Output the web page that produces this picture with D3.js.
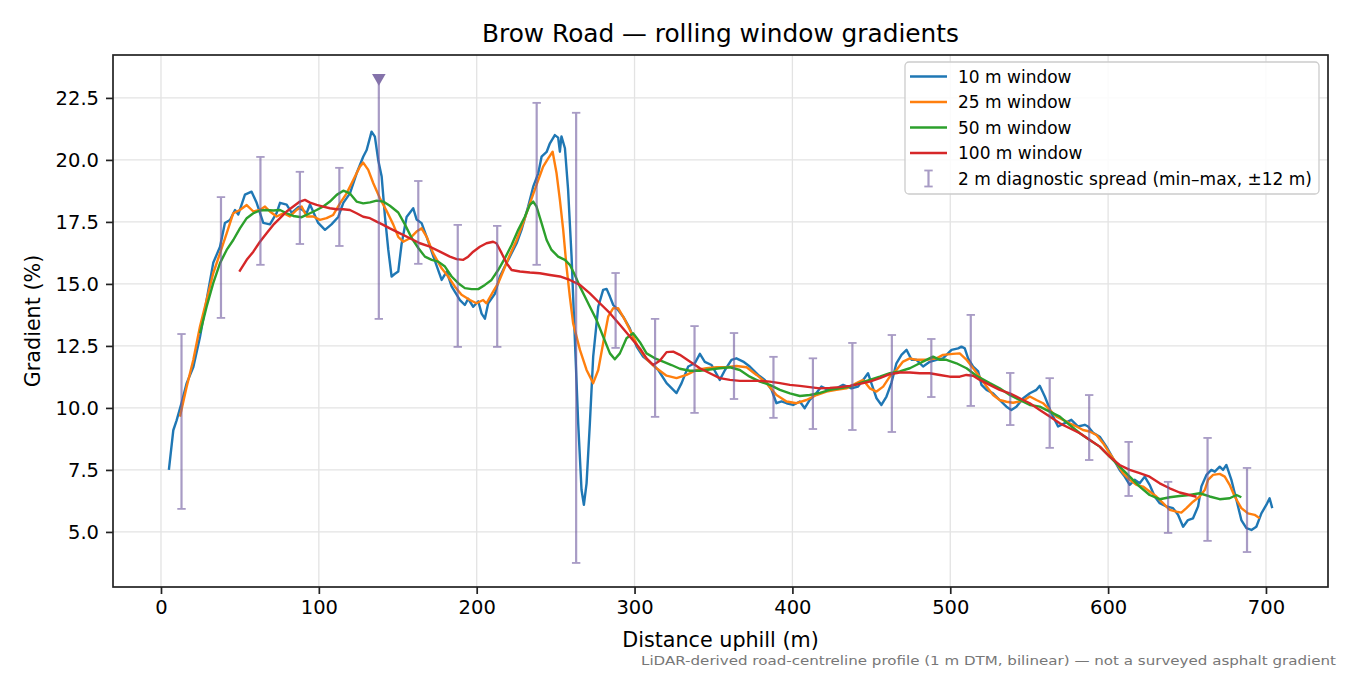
<!DOCTYPE html>
<html>
<head>
<meta charset="utf-8">
<script src="https://cdn.jsdelivr.net/npm/d3@7"></script>
<style>
html,body{margin:0;padding:0;background:#fff;}
svg{display:block;font-family:"DejaVu Sans",sans-serif;}
</style>
</head>
<body>
<svg id="chart" width="1350" height="675"></svg>
<script>
// ---------------- DATA ----------------
const chartTitle = "Brow Road — rolling window gradients";
const xLabel = "Distance uphill (m)";
const yLabel = "Gradient (%)";
const footnote = "LiDAR-derived road-centreline profile (1 m DTM, bilinear) — not a surveyed asphalt gradient";
const seriesNames = ["10 m window", "25 m window", "50 m window", "100 m window"];
const spreadName = "2 m diagnostic spread (min–max, ±12 m)";
const xTicks = [0, 100, 200, 300, 400, 500, 600, 700];
const yTicks = [5.0, 7.5, 10.0, 12.5, 15.0, 17.5, 20.0, 22.5];

// [distance (m), gradient (%)]
const win10 = [[5,7.5],[7.8,9.1],[9.9,9.5],[13,10.2],[16.3,11.0],[20.5,11.65],[24.7,12.86],[28.9,14.35],[33.1,15.85],[37.4,16.5],[40.5,17.46],[43.7,17.58],[46.9,17.98],[49,17.8],[53.2,18.6],[57.4,18.72],[60.6,18.27],[64.8,17.46],[69,17.4],[73.3,17.86],[75.4,18.27],[79.6,18.2],[82.8,17.86],[87,18.1],[92.3,17.86],[94.4,18.2],[99.6,17.46],[103.9,17.18],[108,17.4],[112.3,17.7],[115.5,18.27],[119.7,18.65],[124,19.47],[128.1,20.13],[130.3,20.4],[133.4,21.14],[135.5,20.94],[137.6,20.0],[139.8,19.33],[141.9,17.7],[144,16.37],[146.1,15.3],[148,15.4],[150.3,15.5],[152.4,16.6],[155.6,17.7],[159.8,18.05],[161.9,17.6],[165.1,17.45],[168.3,16.9],[171.5,16.3],[175.6,15.56],[177.8,15.16],[181,15.5],[184.1,14.9],[189.4,14.35],[192.5,14.15],[194.6,14.4],[197.8,14.08],[201,14.3],[203.1,13.8],[205.2,13.6],[207.3,14.22],[211.5,14.6],[214.7,15.3],[217.8,15.7],[221,16.1],[225.3,16.64],[228.4,17.18],[232.6,18.12],[235.8,18.92],[239,19.46],[241.1,20.13],[244.3,20.32],[246.4,20.67],[249.5,21.0],[251.6,20.9],[252.7,20.33],[253.7,20.95],[255.9,20.47],[257.9,18.8],[260.1,16.1],[262.2,12.74],[264.3,9.38],[266.4,6.7],[267.9,6.09],[269.6,6.96],[271.7,9.38],[273.8,12.07],[277,14.08],[280.1,14.76],[282.3,14.8],[284.4,14.49],[286.5,14.15],[289.6,13.95],[292.8,13.68],[297,13.21],[301.3,12.47],[305.4,12.07],[309.7,11.85],[315,11.53],[320.3,11.0],[326.6,10.6],[329.8,11.0],[334,11.67],[338.2,11.8],[341.4,12.18],[344.5,11.86],[348.8,11.73],[354,11.13],[357.3,11.53],[361.4,11.94],[364.5,12.0],[368.8,11.87],[373,11.67],[378.3,11.33],[382.5,11.13],[386.8,10.73],[389.9,10.19],[393.1,10.26],[396.3,10.19],[400.5,10.12],[404.7,10.26],[407.8,9.99],[411,10.32],[415.2,10.6],[418.4,10.86],[422.6,10.73],[427.9,10.79],[432.1,10.93],[437.4,10.79],[441.6,10.86],[444.8,11.13],[447.9,11.4],[450,11.0],[453.3,10.39],[456.4,10.12],[459.6,10.46],[462.7,11.0],[465.9,11.8],[469.1,12.14],[472.3,12.34],[475.5,11.94],[478.6,11.94],[482.8,11.67],[487,11.86],[491.3,11.94],[495.4,12.0],[500.8,12.34],[505,12.4],[507.1,12.47],[509.2,12.4],[511.3,12.0],[514.5,11.67],[517.7,11.47],[519.8,10.93],[523,10.73],[527.1,10.59],[531.3,10.32],[535.6,10.05],[538.7,9.92],[541.9,10.05],[546.2,10.39],[550.4,10.59],[554.6,10.73],[556.7,10.89],[559.9,10.46],[564.1,9.79],[568.3,9.25],[572.6,9.39],[576.7,9.52],[581,9.25],[585.2,9.32],[587.3,9.25],[590.5,9.0],[594.7,8.84],[598.9,8.44],[603.1,7.97],[607.3,7.5],[610.5,7.23],[613.7,6.9],[616.8,7.1],[620,6.96],[623.2,7.23],[626.3,6.9],[629.5,6.43],[632.7,6.16],[636.9,6.03],[641.1,5.96],[644.3,5.69],[647.5,5.21],[650.6,5.48],[653.8,5.55],[657,6.03],[659.1,6.83],[662.3,7.3],[665.4,7.5],[667.6,7.43],[670.7,7.63],[672.8,7.5],[674.9,7.7],[678.1,7.1],[681.3,6.29],[684.4,5.48],[687.6,5.15],[690.8,5.08],[693.9,5.21],[697.1,5.75],[700.3,6.1],[702.3,6.36],[704,5.96]];

const win25 = [[12,9.65],[16.3,10.86],[20.5,11.94],[24.7,13.28],[28.9,14.35],[33.1,15.43],[37.4,16.24],[41.6,17.04],[45.8,17.85],[50,17.98],[54.3,18.18],[58.5,17.92],[62.7,17.98],[65.9,18.12],[69,17.92],[73.3,17.72],[77.5,17.85],[81.7,17.72],[85.9,17.98],[89.1,18.12],[92.3,17.72],[96.5,17.72],[100.7,17.58],[104.9,17.65],[109.1,17.78],[113.4,18.25],[117.6,18.65],[121.8,19.19],[126,19.73],[128.1,19.89],[131.3,19.6],[134.5,19.06],[138.7,18.45],[142.9,17.95],[147.1,17.4],[150.3,16.9],[153.5,16.7],[157.7,16.84],[161.9,17.11],[165.1,17.24],[168.3,16.9],[172.4,16.24],[177.8,15.63],[181.9,15.3],[186.2,14.89],[190.4,14.56],[195.7,14.35],[199.9,14.22],[204.1,14.35],[206.2,14.22],[210.4,14.69],[213.6,15.03],[216.7,15.5],[221,16.17],[225.3,16.77],[229.4,17.45],[233.7,18.25],[237.9,18.99],[242.1,19.73],[245.3,20.06],[248.1,20.33],[250.6,19.46],[252.7,18.39],[254.8,17.18],[256.9,15.7],[259,14.49],[261.1,13.41],[265.4,12.34],[269.6,11.53],[273.8,11.0],[277,11.53],[280.1,12.61],[283.3,13.68],[286.5,14.02],[289.6,14.02],[293.9,13.55],[298.1,13.01],[302.3,12.45],[307.6,11.97],[313.9,11.6],[320.3,11.3],[326.6,11.2],[332.9,11.33],[339.3,11.53],[345.6,11.6],[351.9,11.64],[358.3,11.64],[364.6,11.69],[371,11.64],[377.3,11.33],[383.6,11.0],[389.9,10.52],[396.3,10.26],[402.6,10.19],[408.9,10.32],[415.3,10.52],[421.6,10.66],[427.9,10.73],[434.2,10.79],[440.6,11.0],[444.8,11.13],[449,10.79],[453.3,10.66],[457.5,10.86],[461.7,11.26],[465.9,11.53],[470.1,11.87],[474.4,12.0],[478.6,11.94],[484.9,11.94],[491.3,12.0],[495.4,12.14],[501.7,12.18],[506,12.2],[510.2,11.95],[514.5,11.6],[518.7,11.25],[523,10.86],[527.1,10.52],[531.3,10.32],[535.6,10.25],[539.8,10.21],[546.2,10.29],[550.4,10.46],[554.6,10.32],[558.8,10.19],[563,9.92],[567.3,9.65],[571.5,9.52],[575.7,9.38],[580,9.25],[584.1,9.11],[588.3,9.05],[592.6,8.91],[596.8,8.58],[601,8.17],[605.3,7.77],[609.4,7.37],[613.7,7.1],[617.9,6.9],[622.1,6.83],[626.3,6.63],[630.6,6.43],[634.8,6.16],[639,5.89],[643.3,5.82],[646.4,5.78],[649.6,5.96],[653.8,6.22],[658,6.43],[661.2,6.69],[663.3,7.1],[666.5,7.3],[670.7,7.34],[673.9,7.23],[677,6.9],[680.2,6.43],[684.4,5.96],[688.6,5.75],[692.8,5.69],[696,5.55]];

const win50 = [[24.7,13.01],[28.9,14.08],[33.1,15.03],[37.4,15.84],[41.6,16.37],[45.8,16.77],[50,17.24],[54.3,17.65],[58.5,17.85],[62.7,17.96],[66.9,17.98],[71.1,17.96],[75.4,17.98],[79.6,17.85],[83.8,17.74],[89.1,17.69],[94.4,17.85],[98.6,17.98],[102.8,18.12],[107,18.32],[111.3,18.59],[115.5,18.76],[119.7,18.65],[123.9,18.32],[128.1,18.25],[132.4,18.29],[136.6,18.36],[140.8,18.32],[145,18.15],[150.3,17.88],[154.5,17.4],[158.8,16.85],[163,16.45],[167.2,16.1],[171.5,15.97],[175.6,15.9],[179.9,15.7],[184.1,15.3],[188.3,15.03],[192.5,14.83],[196.8,14.79],[201,14.79],[205.2,14.96],[209.4,15.16],[213.6,15.56],[217.9,16.04],[222.1,16.57],[226.3,17.18],[230.5,17.71],[233.7,18.19],[235.8,18.32],[237.9,18.12],[241.1,17.45],[244.3,16.77],[247.4,16.37],[251.6,16.1],[255.9,15.97],[259,15.77],[262.2,15.36],[265.4,14.89],[268.5,14.49],[271.7,14.08],[275.9,13.55],[280.1,12.88],[284.4,12.2],[287.5,11.96],[290.7,12.2],[294.9,12.81],[299.1,13.01],[303.4,12.65],[307.6,12.2],[312.9,12.0],[318.1,11.87],[323.4,11.73],[328.7,11.58],[335,11.5],[341.4,11.5],[347.7,11.55],[354,11.6],[360.4,11.64],[366.7,11.53],[373,11.26],[379.4,11.06],[385.7,10.93],[392.1,10.73],[398.4,10.59],[404.7,10.48],[411,10.52],[417.4,10.61],[423.7,10.73],[430,10.79],[436.4,10.86],[442.7,11.0],[449,11.13],[455.4,11.26],[461.7,11.4],[468,11.47],[474.4,11.6],[480.7,11.8],[484.9,11.94],[489.1,12.07],[493.4,11.94],[497.6,11.94],[503.9,11.8],[510.3,11.6],[516.6,11.3],[525,11.0],[531.3,10.79],[537.7,10.52],[544,10.32],[550.4,10.12],[556.7,10.05],[563,9.85],[569.4,9.65],[575.7,9.31],[582.1,8.98],[588.4,8.71],[594.7,8.44],[601,8.04],[607.3,7.63],[613.7,7.23],[620,6.83],[626.3,6.49],[632.7,6.32],[639,6.4],[645.3,6.45],[651.6,6.49],[658,6.56],[664.3,6.43],[670.7,6.32],[677,6.36],[681.3,6.49],[684.4,6.4]];

const win100 = [[49.6,15.5],[54.3,15.97],[58.5,16.3],[62.7,16.7],[66.9,17.04],[71.1,17.38],[75.4,17.65],[79.6,17.92],[83.8,18.12],[88,18.32],[91.2,18.39],[94.4,18.28],[98.6,18.19],[102.8,18.12],[107,18.05],[111.3,18.01],[115.5,18.01],[119.7,17.98],[123.9,17.85],[128.1,17.71],[132.4,17.65],[136.6,17.51],[140.8,17.38],[145,17.24],[151.4,17.04],[157.7,16.84],[164,16.64],[170.4,16.5],[176.7,16.3],[183,16.1],[187.3,16.0],[191.5,15.97],[194.6,16.1],[197.8,16.3],[202,16.5],[206.2,16.64],[210.4,16.7],[212.5,16.64],[215.8,16.24],[218.9,15.84],[222.1,15.56],[227.4,15.5],[233.7,15.46],[240,15.43],[246.4,15.36],[252.7,15.3],[259,15.16],[265.4,14.96],[271.7,14.62],[278,14.22],[284.4,13.82],[290.7,13.35],[297,12.88],[303.4,12.4],[307.6,12.0],[311.8,11.73],[316,11.9],[320.3,12.25],[324.5,12.27],[328.7,12.14],[335,11.87],[341.4,11.6],[347.7,11.4],[354,11.2],[360.4,11.13],[366.7,11.09],[373,11.09],[379.4,11.09],[385.7,11.06],[392.1,11.0],[398.4,10.93],[404.7,10.89],[411,10.84],[417.4,10.79],[423.7,10.81],[430,10.84],[436.4,10.89],[442.7,10.97],[449,11.06],[455.4,11.2],[461.7,11.36],[468,11.43],[474.4,11.43],[480.7,11.4],[487,11.4],[493.4,11.33],[499.7,11.26],[506,11.26],[510.2,11.33],[514.5,11.3],[518.7,11.13],[525,10.93],[531.3,10.73],[537.7,10.59],[544,10.39],[550.4,10.19],[556.7,9.92],[563,9.65],[569.4,9.38],[575.7,9.18],[582.1,8.98],[588.4,8.71],[594.7,8.44],[601,8.04],[607.3,7.7],[613.7,7.5],[620,7.37],[626.3,7.23],[632.7,6.96],[639,6.76],[645.3,6.59],[651.6,6.49],[656,6.42]];

// diagnostic spread (2 m window, min–max within ±12 m)
const spreadDist = [13,38,63,88,113,138,163,188,213,238,263,288,313,338,363,388,413,438,463,488,513,538,563,588,613,638,663,688];
const spreadLow  = [5.93,13.63,15.77,16.61,16.53,13.59,15.81,12.46,12.46,15.77,3.75,12.42,9.64,9.8,10.36,9.6,9.15,9.11,9.03,10.44,10.08,9.31,8.39,7.9,6.45,4.96,4.64,4.19];
const spreadHigh = [12.98,18.5,20.12,19.52,19.68,26.5,19.15,17.38,17.34,22.3,21.9,15.44,13.59,13.3,13.02,12.06,12.0,12.62,12.94,12.78,13.75,11.41,11.2,10.52,8.63,7.02,8.79,7.58];
const spreadClip = 23.35; // values above this are clipped and flagged

// ---------------- LAYOUT ----------------
const W = 1350, H = 675;
const m = {left: 113, right: 1328, top: 55, bottom: 587};
const colors = ["#1f77b4", "#ff7f0e", "#2ca02c", "#d62728"];
const seriesData = [win10, win25, win50, win100];

const svg = d3.select("#chart");
const x = d3.scaleLinear().domain([-30.4, 739.3]).range([m.left, m.right]);
const y = d3.scaleLinear().domain([2.78, 24.23]).range([m.bottom, m.top]);

// grid
const grid = svg.append("g");
grid.selectAll(".gx").data(xTicks).enter().append("line")
  .attr("x1", d => x(d)).attr("x2", d => x(d))
  .attr("y1", m.top).attr("y2", m.bottom)
  .attr("stroke", "#e3e3e3").attr("stroke-width", 1.3);
grid.selectAll(".gy").data(yTicks).enter().append("line")
  .attr("x1", m.left).attr("x2", m.right)
  .attr("y1", d => y(d)).attr("y2", d => y(d))
  .attr("stroke", "#e3e3e3").attr("stroke-width", 1.3);

// clip
svg.append("clipPath").attr("id", "plotclip").append("rect")
  .attr("x", m.left).attr("y", m.top).attr("width", m.right - m.left).attr("height", m.bottom - m.top);

const plot = svg.append("g").attr("clip-path", "url(#plotclip)");
const line = d3.line().x(d => x(d[0])).y(d => y(d[1]));
seriesData.forEach((s, i) => {
  plot.append("path").datum(s).attr("d", line)
    .attr("fill", "none").attr("stroke", colors[i])
    .attr("stroke-width", 2.4).attr("stroke-linejoin", "round").attr("stroke-linecap", "butt");
});

// error bars
const spread = spreadDist.map((d, i) => ({d, lo: spreadLow[i], hi: Math.min(spreadHigh[i], spreadClip), clipped: spreadHigh[i] > spreadClip}));
const eb = plot.append("g").attr("opacity", 0.6);
const barCol = "#6f5a9f";
const cap = 4.2;
eb.selectAll(".v").data(spread).enter().append("line")
  .attr("x1", d => x(d.d)).attr("x2", d => x(d.d))
  .attr("y1", d => y(d.lo)).attr("y2", d => y(d.hi))
  .attr("stroke", barCol).attr("stroke-width", 2.2);
eb.selectAll(".cl").data(spread).enter().append("line")
  .attr("x1", d => x(d.d) - cap).attr("x2", d => x(d.d) + cap)
  .attr("y1", d => y(d.lo)).attr("y2", d => y(d.lo))
  .attr("stroke", barCol).attr("stroke-width", 1.8);
eb.selectAll(".ch").data(spread.filter(d => !d.clipped)).enter().append("line")
  .attr("x1", d => x(d.d) - cap).attr("x2", d => x(d.d) + cap)
  .attr("y1", d => y(d.hi)).attr("y2", d => y(d.hi))
  .attr("stroke", barCol).attr("stroke-width", 1.8);
plot.selectAll(".tri").data(spread.filter(d => d.clipped)).enter().append("path")
  .attr("d", d3.symbol().type(d3.symbolTriangle).size(80))
  .attr("transform", d => `translate(${x(d.d)},${y(d.hi) + 1}) rotate(180)`)
  .attr("fill", "#8472aa");

// spines
svg.append("rect").attr("x", m.left).attr("y", m.top)
  .attr("width", m.right - m.left).attr("height", m.bottom - m.top)
  .attr("fill", "none").attr("stroke", "#222").attr("stroke-width", 1.7);

// axes
const xAxis = d3.axisBottom(x).tickValues(xTicks).tickFormat(d3.format("d")).tickSize(7).tickPadding(6);
const yAxis = d3.axisLeft(y).tickValues(yTicks).tickFormat(d3.format(".1f")).tickSize(7).tickPadding(7);
const gx = svg.append("g").attr("transform", `translate(0,${m.bottom})`).call(xAxis);
const gy = svg.append("g").attr("transform", `translate(${m.left},0)`).call(yAxis);
[gx, gy].forEach(g => {
  g.select(".domain").remove();
  g.selectAll(".tick line").attr("stroke", "#222").attr("stroke-width", 1.7);
  g.selectAll(".tick text").attr("fill", "#000").style("font-size", "19.5px").style("font-family", "DejaVu Sans");
});

// labels
svg.append("text").attr("x", (m.left + m.right) / 2).attr("y", 42).attr("text-anchor", "middle")
  .style("font-size", "24.8px").attr("fill", "#000").text(chartTitle);
svg.append("text").attr("x", (m.left + m.right) / 2).attr("y", 647).attr("text-anchor", "middle")
  .style("font-size", "20.7px").attr("fill", "#000").text(xLabel);
svg.append("text").attr("transform", `translate(40,${(m.top + m.bottom) / 2}) rotate(-90)`).attr("text-anchor", "middle")
  .style("font-size", "20.7px").attr("fill", "#000").text(yLabel);
svg.append("text").attr("x", 1336).attr("y", 665).attr("text-anchor", "end")
  .style("font-size", "13px").attr("fill", "#777")
  .attr("textLength", 695).attr("lengthAdjust", "spacingAndGlyphs").text(footnote);

// legend
const lg = svg.append("g").attr("transform", "translate(905,62)");
lg.append("rect").attr("x", 0).attr("y", 0).attr("width", 414).attr("height", 132).attr("rx", 4)
  .attr("fill", "#fff").attr("fill-opacity", 0.85).attr("stroke", "#cccccc").attr("stroke-width", 1.3);
const rowY = [14.5, 40, 65.5, 91, 116.5];
seriesNames.forEach((n, i) => {
  lg.append("line").attr("x1", 5).attr("x2", 42).attr("y1", rowY[i]).attr("y2", rowY[i])
    .attr("stroke", colors[i]).attr("stroke-width", 2.5);
  lg.append("text").attr("x", 53).attr("y", rowY[i] + 6).style("font-size", "17px").attr("fill", "#000").text(n);
});
const eg = lg.append("g").attr("opacity", 0.6);
eg.append("line").attr("x1", 23.5).attr("x2", 23.5).attr("y1", rowY[4] - 8).attr("y2", rowY[4] + 8).attr("stroke", barCol).attr("stroke-width", 2.2);
eg.append("line").attr("x1", 23.5 - cap).attr("x2", 23.5 + cap).attr("y1", rowY[4] - 8).attr("y2", rowY[4] - 8).attr("stroke", barCol).attr("stroke-width", 1.8);
eg.append("line").attr("x1", 23.5 - cap).attr("x2", 23.5 + cap).attr("y1", rowY[4] + 8).attr("y2", rowY[4] + 8).attr("stroke", barCol).attr("stroke-width", 1.8);
lg.append("text").attr("x", 53).attr("y", rowY[4] + 6).style("font-size", "17px").attr("fill", "#000").text(spreadName);
</script>
</body>
</html>
